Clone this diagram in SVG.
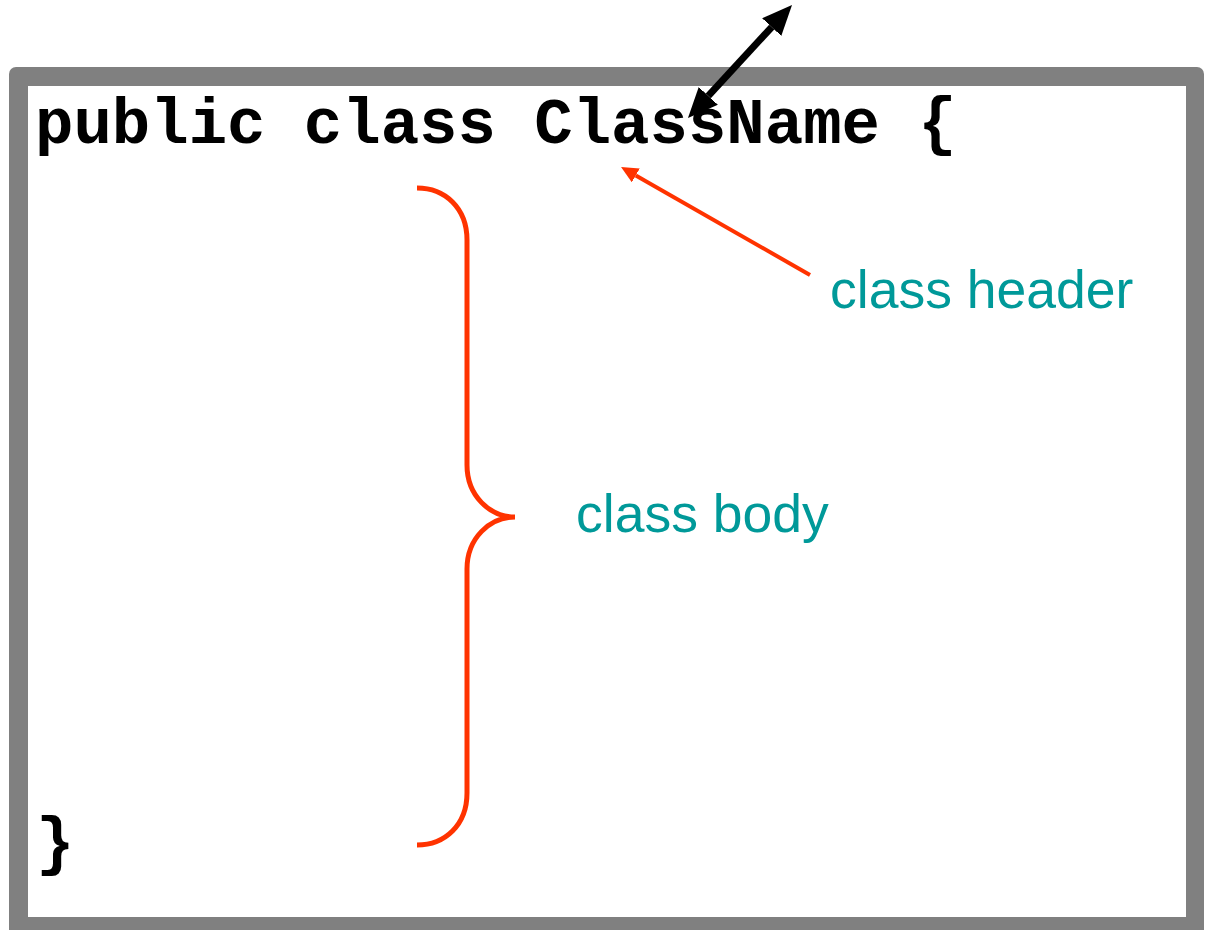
<svg xmlns="http://www.w3.org/2000/svg" width="1208" height="930" viewBox="0 0 1208 930">
  <style>
    .code { font-family: "Liberation Mono", "Courier New", monospace; font-weight: bold; font-size: 64px; fill: #000; }
    .label { font-family: "Liberation Sans", Arial, sans-serif; font-size: 53.5px; fill: #009999; }
    .redline { stroke: #FF3300; fill: none; }
  </style>
  <defs>
    <marker id="blackHead" viewBox="0 0 30 26" refX="0" refY="13" markerWidth="30" markerHeight="26" markerUnits="userSpaceOnUse" orient="auto-start-reverse">
      <path d="M0,0 L30,13 L0,26 z" fill="#000"/>
    </marker>
    <marker id="redHead" viewBox="0 0 17 16" refX="0" refY="8" markerWidth="17" markerHeight="16" markerUnits="userSpaceOnUse" orient="auto">
      <path d="M0,0 L17,8 L0,16 z" fill="#FF3300"/>
    </marker>
  </defs>
  <rect width="1208" height="930" fill="#fff"/>
  <g id="frame">
    <rect x="9" y="67" width="1195" height="875" rx="7" fill="#808080"/>
    <rect x="28" y="86" width="1158" height="831" fill="#fff"/>
  </g>
  <g id="code-header">
    <text class="code" x="35" y="143">public class ClassName {</text>
  </g>
  <g id="code-close">
    <text class="code" x="36" y="863">}</text>
  </g>
  <g id="brace">
    <path class="redline" stroke-width="5" d="M417,188 C445,188 467,208 467,240 L467,465 C467,496 490,517 515,517 C490,517 467,538 467,569 L467,793 C467,825 445,845 417,845"/>
  </g>
  <g id="label-header">
    <text class="label" x="830" y="308">class header</text>
  </g>
  <g id="label-body">
    <text class="label" x="576" y="532">class body</text>
  </g>
  <g id="connectors">
    <line x1="708.3" y1="95.9" x2="771.7" y2="27.1" stroke="#000" stroke-width="7" marker-start="url(#blackHead)" marker-end="url(#blackHead)"/>
    <line x1="810" y1="275" x2="635.8" y2="175.4" stroke="#FF3300" stroke-width="4" marker-end="url(#redHead)"/>
  </g>
</svg>
